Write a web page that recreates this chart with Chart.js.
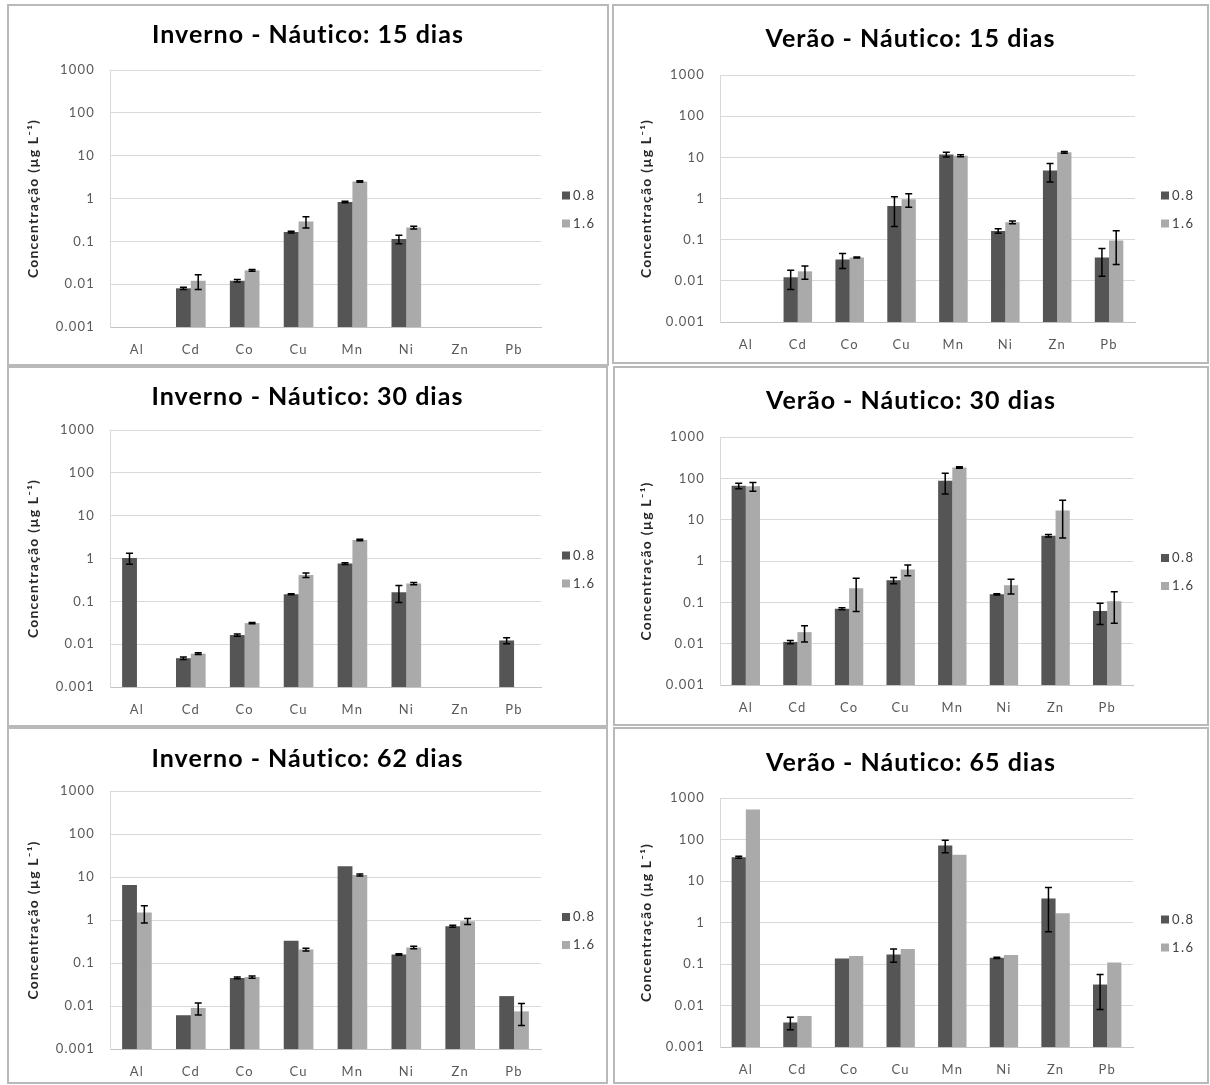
<!DOCTYPE html>
<html><head><meta charset="utf-8">
<script src="https://cdn.jsdelivr.net/npm/chart.js@4.4.1/dist/chart.umd.min.js"></script>
<style>
html,body{margin:0;padding:0;background:#fff;}
body{width:1210px;height:1085px;position:relative;overflow:hidden;font-family:Lato,sans-serif;}
.frame{position:absolute;box-sizing:border-box;border:2px solid #b9b9b9;pointer-events:none;}
.ttl{position:absolute;text-align:center;font-family:Lato,sans-serif;font-weight:bold;font-size:25px;letter-spacing:1px;line-height:30px;color:#000;white-space:nowrap;}
canvas{position:absolute;}
</style></head><body>
<script>
// ---------- data ----------
const categories = ['Al','Cd','Co','Cu','Mn','Ni','Zn','Pb'];
const seriesLabels = ['0.8','1.6'];
const yTicks = [1000,100,10,1,0.1,0.01,0.001];
const yTickLabels = ['1000','100','10','1','0.1','0.01','0.001'];
const yAxisTitle = 'Concentração (µg L⁻¹)';
const panelTitles = ['Inverno - Náutico: 15 dias','Verão - Náutico: 15 dias','Inverno - Náutico: 30 dias','Verão - Náutico: 30 dias','Inverno - Náutico: 62 dias','Verão - Náutico: 65 dias'];

const inv15_08     = [null, 0.008, 0.012, 0.165, 0.83, 0.113, null, null];
const inv15_08_err = [null, 0.0005, 0.0008, 0.008, 0.03, 0.025, null, null];
const inv15_16     = [null, 0.012, 0.021, 0.29, 2.5, 0.21, null, null];
const inv15_16_err = [null, 0.0045, 0.001, 0.085, 0.1, 0.015, null, null];

const ver15_08     = [null, 0.0122, 0.033, 0.66, 11.7, 0.163, 4.8, 0.037];
const ver15_08_err = [null, 0.006, 0.013, 0.45, 1.5, 0.02, 2.3, 0.024];
const ver15_16     = [null, 0.017, 0.037, 0.96, 11, 0.265, 13.2, 0.095];
const ver15_16_err = [null, 0.006, 0.001, 0.35, 0.6, 0.02, 0.7, 0.07];

const inv30_08     = [1.03, 0.0047, 0.0163, 0.147, 0.76, 0.164, null, 0.0122];
const inv30_08_err = [0.3, 0.0003, 0.001, 0.004, 0.04, 0.07, null, 0.002];
const inv30_16     = [null, 0.006, 0.031, 0.41, 2.7, 0.26, null, null];
const inv30_16_err = [null, 0.0003, 0.001, 0.05, 0.1, 0.015, null, null];

const ver30_08     = [66, 0.011, 0.07, 0.34, 87, 0.156, 4.1, 0.062];
const ver30_08_err = [10, 0.001, 0.004, 0.06, 45, 0.006, 0.3, 0.033];
const ver30_16     = [64, 0.019, 0.22, 0.62, 183, 0.26, 16.6, 0.106];
const ver30_16_err = [15, 0.008, 0.16, 0.18, 8, 0.1, 13, 0.075];

const inv62_08     = [6.5, 0.0061, 0.045, 0.33, 17.9, 0.158, 0.72, 0.017];
const inv62_08_err = [0, 0, 0.002, 0, 0, 0.006, 0.04, 0];
const inv62_16     = [1.5, 0.009, 0.047, 0.205, 11.1, 0.23, 0.94, 0.0075];
const inv62_16_err = [0.65, 0.0028, 0.003, 0.015, 0.6, 0.015, 0.15, 0.004];

const ver65_08     = [37.5, 0.0039, 0.136, 0.17, 72, 0.141, 3.8, 0.032];
const ver65_08_err = [2, 0.0013, 0, 0.06, 24, 0.005, 3.2, 0.024];
const ver65_16     = [530, 0.0056, 0.155, 0.229, 43, 0.164, 1.66, 0.109];
const ver65_16_err = [0, 0, 0, 0, 0, 0, 0, 0];

const panelSeries = [
  [inv15_08, inv15_08_err, inv15_16, inv15_16_err],
  [ver15_08, ver15_08_err, ver15_16, ver15_16_err],
  [inv30_08, inv30_08_err, inv30_16, inv30_16_err],
  [ver30_08, ver30_08_err, ver30_16, ver30_16_err],
  [inv62_08, inv62_08_err, inv62_16, inv62_16_err],
  [ver65_08, ver65_08_err, ver65_16, ver65_16_err]
];

// ---------- layout (page pixels) ----------
const frames = [
  {box:[7,4,602,362],   plot:[110,70,541,327],   titleY:33,  yTitleX:33,  legendX:562},
  {box:[612,4,597,360], plot:[720,75,1135,322],  titleY:37,  yTitleX:646, legendX:1161},
  {box:[7,366,601,361], plot:[110,430,541,687],  titleY:395, yTitleX:33,  legendX:562},
  {box:[613,366,596,360],plot:[720,437,1133,685],titleY:399, yTitleX:646, legendX:1161},
  {box:[7,727,601,357], plot:[110,791,541,1049], titleY:757, yTitleX:33,  legendX:562},
  {box:[613,727,596,357],plot:[720,798,1133,1047],titleY:761, yTitleX:646, legendX:1161}
];
const colors = ['#555555','#aaaaaa'];
const tickFont = {family:'Lato', size:13};

const spacingPlugin = {
  id:'spacing',
  beforeDraw(chart){ try { chart.ctx.letterSpacing = '1.2px'; } catch(e){} }
};

const errorBars = {
  id:'errorBars',
  afterDatasetsDraw(chart){
    const ctx = chart.ctx, ys = chart.scales.y;
    chart.data.datasets.forEach((ds,i)=>{
      if(!ds.errors) return;
      const meta = chart.getDatasetMeta(i);
      meta.data.forEach((bar,j)=>{
        const v = ds.data[j], e = ds.errors[j];
        if(v==null || !e) return;
        const top = ys.getPixelForValue(v+e);
        const bot = ys.getPixelForValue(Math.max(v-e, ys.min));
        const x = bar.x, cap = 3.5;
        ctx.save();
        ctx.strokeStyle = '#000'; ctx.lineWidth = 1.5;
        ctx.beginPath();
        ctx.moveTo(x,top); ctx.lineTo(x,bot);
        ctx.moveTo(x-cap,top); ctx.lineTo(x+cap,top);
        ctx.moveTo(x-cap,bot); ctx.lineTo(x+cap,bot);
        ctx.stroke();
        ctx.restore();
      });
    });
  }
};

const sideLegend = {
  id:'sideLegend',
  afterDraw(chart, args, opts){
    const ctx = chart.ctx, ca = chart.chartArea;
    const cy = (ca.top+ca.bottom)/2 + opts.dy;
    ctx.save();
    chart.data.datasets.forEach((ds,i)=>{
      const yy = cy + i*opts.spacing;
      ctx.fillStyle = ds.backgroundColor;
      ctx.fillRect(opts.x, yy-4, 8, 8);
      ctx.fillStyle = '#404040';
      ctx.font = '13px Lato';
      try { ctx.letterSpacing = '1.5px'; } catch(e){}
      ctx.textBaseline = 'middle'; ctx.textAlign = 'left';
      ctx.fillText(ds.label, opts.x+11, yy);
    });
    ctx.restore();
  }
};

function tickLabel(v){
  for(let k=0;k<yTicks.length;k++){
    if(Math.abs(Math.log10(v)-Math.log10(yTicks[k]))<1e-6) return yTickLabels[k];
  }
  return '';
}

frames.forEach((f,p)=>{
  const [bx,by,bw,bh] = f.box;
  const [L,T,R,B] = f.plot;
  const cv = document.createElement('canvas');
  cv.width = bw; cv.height = bh;
  cv.style.left = bx+'px'; cv.style.top = by+'px';
  cv.style.width = bw+'px'; cv.style.height = bh+'px';
  document.body.appendChild(cv);
  const fr = document.createElement('div');
  fr.className = 'frame';
  fr.style.left = bx+'px'; fr.style.top = by+'px'; fr.style.width = bw+'px'; fr.style.height = bh+'px';
  document.body.appendChild(fr);
  const t = document.createElement('div');
  t.className = 'ttl';
  t.textContent = panelTitles[p];
  t.style.left = bx+'px'; t.style.width = bw+'px'; t.style.top = (f.titleY-15)+'px';
  document.body.appendChild(t);

  const pl = 4, xh = 30;
  const yw = (L-bx) - pl;
  const titlePadTop = (f.yTitleX-bx) - pl - 8.4;
  const s = panelSeries[p];
  new Chart(cv, {
    type:'bar',
    data:{
      labels:categories,
      datasets:[
        {label:seriesLabels[0], data:s[0], errors:s[1], backgroundColor:colors[0]},
        {label:seriesLabels[1], data:s[2], errors:s[3], backgroundColor:colors[1]}
      ]
    },
    options:{
      responsive:false, animation:false, devicePixelRatio:1,
      layout:{padding:{left:pl, top:T-by, right:(bx+bw)-R, bottom:(by+bh)-B-xh}},
      datasets:{bar:{categoryPercentage:0.55, barPercentage:1.0}},
      plugins:{
        legend:{display:false}, title:{display:false}, tooltip:{enabled:false},
        sideLegend:{x:f.legendX-bx, dy:-3, spacing:28}
      },
      scales:{
        x:{
          grid:{display:false, drawTicks:false},
          border:{display:true, color:'#c4c4c4'},
          ticks:{padding:15, color:'#595959', font:tickFont},
          afterFit:(sc)=>{sc.height = xh;}
        },
        y:{
          type:'logarithmic', min:0.001, max:1000,
          grid:{color:'#d9d9d9', drawTicks:false},
          border:{display:true, color:'#d9d9d9'},
          ticks:{padding:15, color:'#595959', font:tickFont, callback:(v)=>tickLabel(v)},
          afterBuildTicks:(sc)=>{sc.ticks = yTicks.map(v=>({value:v}));},
          title:{display:true, text:yAxisTitle, color:'#262626', font:{family:'Lato', size:14, weight:'bold'}, padding:{top:titlePadTop, bottom:0}},
          afterFit:(sc)=>{sc.width = yw;}
        }
      }
    },
    plugins:[spacingPlugin, errorBars, sideLegend]
  });
});
</script>
</body></html>
